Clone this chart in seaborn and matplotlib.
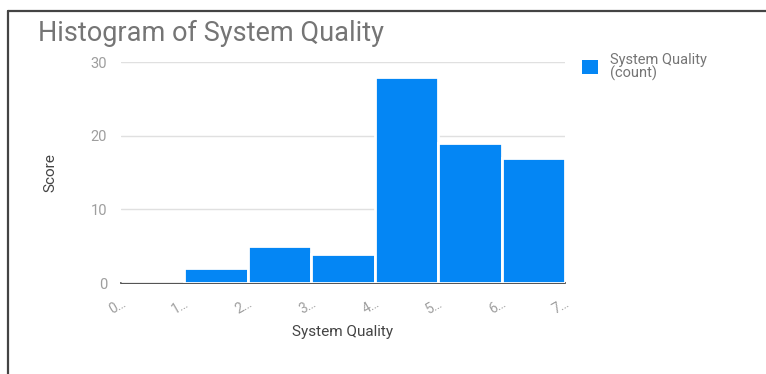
import matplotlib
matplotlib.use("Agg")
import matplotlib.pyplot as plt
from matplotlib.lines import Line2D
from matplotlib.patches import Patch
import seaborn as sns
import pandas as pd

# Histogram bins (lower edges) and the count in each bin
bin_edges = [0, 1, 2, 3, 4, 5, 6, 7]
bin_lower = [0, 1, 2, 3, 4, 5, 6]
bin_counts = [0, 2, 5, 4, 28, 19, 17]
edge_labels = ["0\u2026", "1\u2026", "2\u2026", "3\u2026", "4\u2026", "5\u2026", "6\u2026", "7\u2026"]
y_ticks = [0, 10, 20, 30]

title = "Histogram of System Quality"
x_label = "System Quality"
y_label = "Score"
series_label = "System Quality\n(count)"

bar_color = "#0486f4"
text_grey = "#757575"
tick_grey = "#9e9e9e"

sns.set_style("white")
plt.rcParams["font.family"] = ["Roboto", "DejaVu Sans"]

df = pd.DataFrame({"quality": bin_lower, "count": bin_counts})

fig = plt.figure(figsize=(7.66, 3.74), dpi=100)
ax = fig.add_axes([0.158, 0.2433, 0.5796, 0.5907])

sns.histplot(data=df, x="quality", weights="count", bins=bin_edges,
             color=bar_color, alpha=1.0, edgecolor="white", linewidth=2.0,
             ax=ax, zorder=3)

ax.set_xlim(0, 7)
ax.set_ylim(0, 30)
ax.set_yticks(y_ticks)
ax.set_yticklabels([str(v) for v in y_ticks], color=tick_grey, fontsize=10.5)
ax.set_xticks(bin_edges)
ax.set_xticklabels(edge_labels, rotation=30, ha="right", rotation_mode="anchor",
                   color=tick_grey, fontsize=10)
ax.tick_params(axis="y", length=0, pad=10)
ax.tick_params(axis="x", length=0, pad=9)

ax.grid(axis="y", color="#e0e0e0", linewidth=1, zorder=0)
ax.grid(axis="x", visible=False)
for side in ["top", "right", "left"]:
    ax.spines[side].set_visible(False)
ax.spines["bottom"].set_color("#333333")
ax.spines["bottom"].set_linewidth(1.2)
ax.spines["bottom"].set_zorder(2)

ax.set_xlabel(x_label, color="#444444", fontsize=11, labelpad=6)
ax.set_ylabel(y_label, color="#444444", fontsize=11, labelpad=24)

fig.text(38 / 766, 1 - 33 / 374, title, color=text_grey, fontsize=19.5,
         ha="left", va="center")

handles = [Patch(facecolor=bar_color, edgecolor="none", label=series_label)]
leg = fig.legend(handles=handles, loc="upper left",
                 bbox_to_anchor=(576 / 766, 1 - 47 / 374),
                 frameon=False, fontsize=10.5, handlelength=1.1, handleheight=1.1,
                 handletextpad=0.8, borderaxespad=0)
for t in leg.get_texts():
    t.set_color(text_grey)
    t.set_linespacing(0.9)

# Frame around the chart: left and top edges
fig.add_artist(Line2D([7.5 / 766, 7.5 / 766], [0, 1 - 10.5 / 374],
                      transform=fig.transFigure, color="#444444", linewidth=1.6))
fig.add_artist(Line2D([7.5 / 766, 1], [1 - 10.5 / 374, 1 - 10.5 / 374],
                      transform=fig.transFigure, color="#444444", linewidth=1.6))

fig.savefig("out.png", dpi=100, facecolor="white")
